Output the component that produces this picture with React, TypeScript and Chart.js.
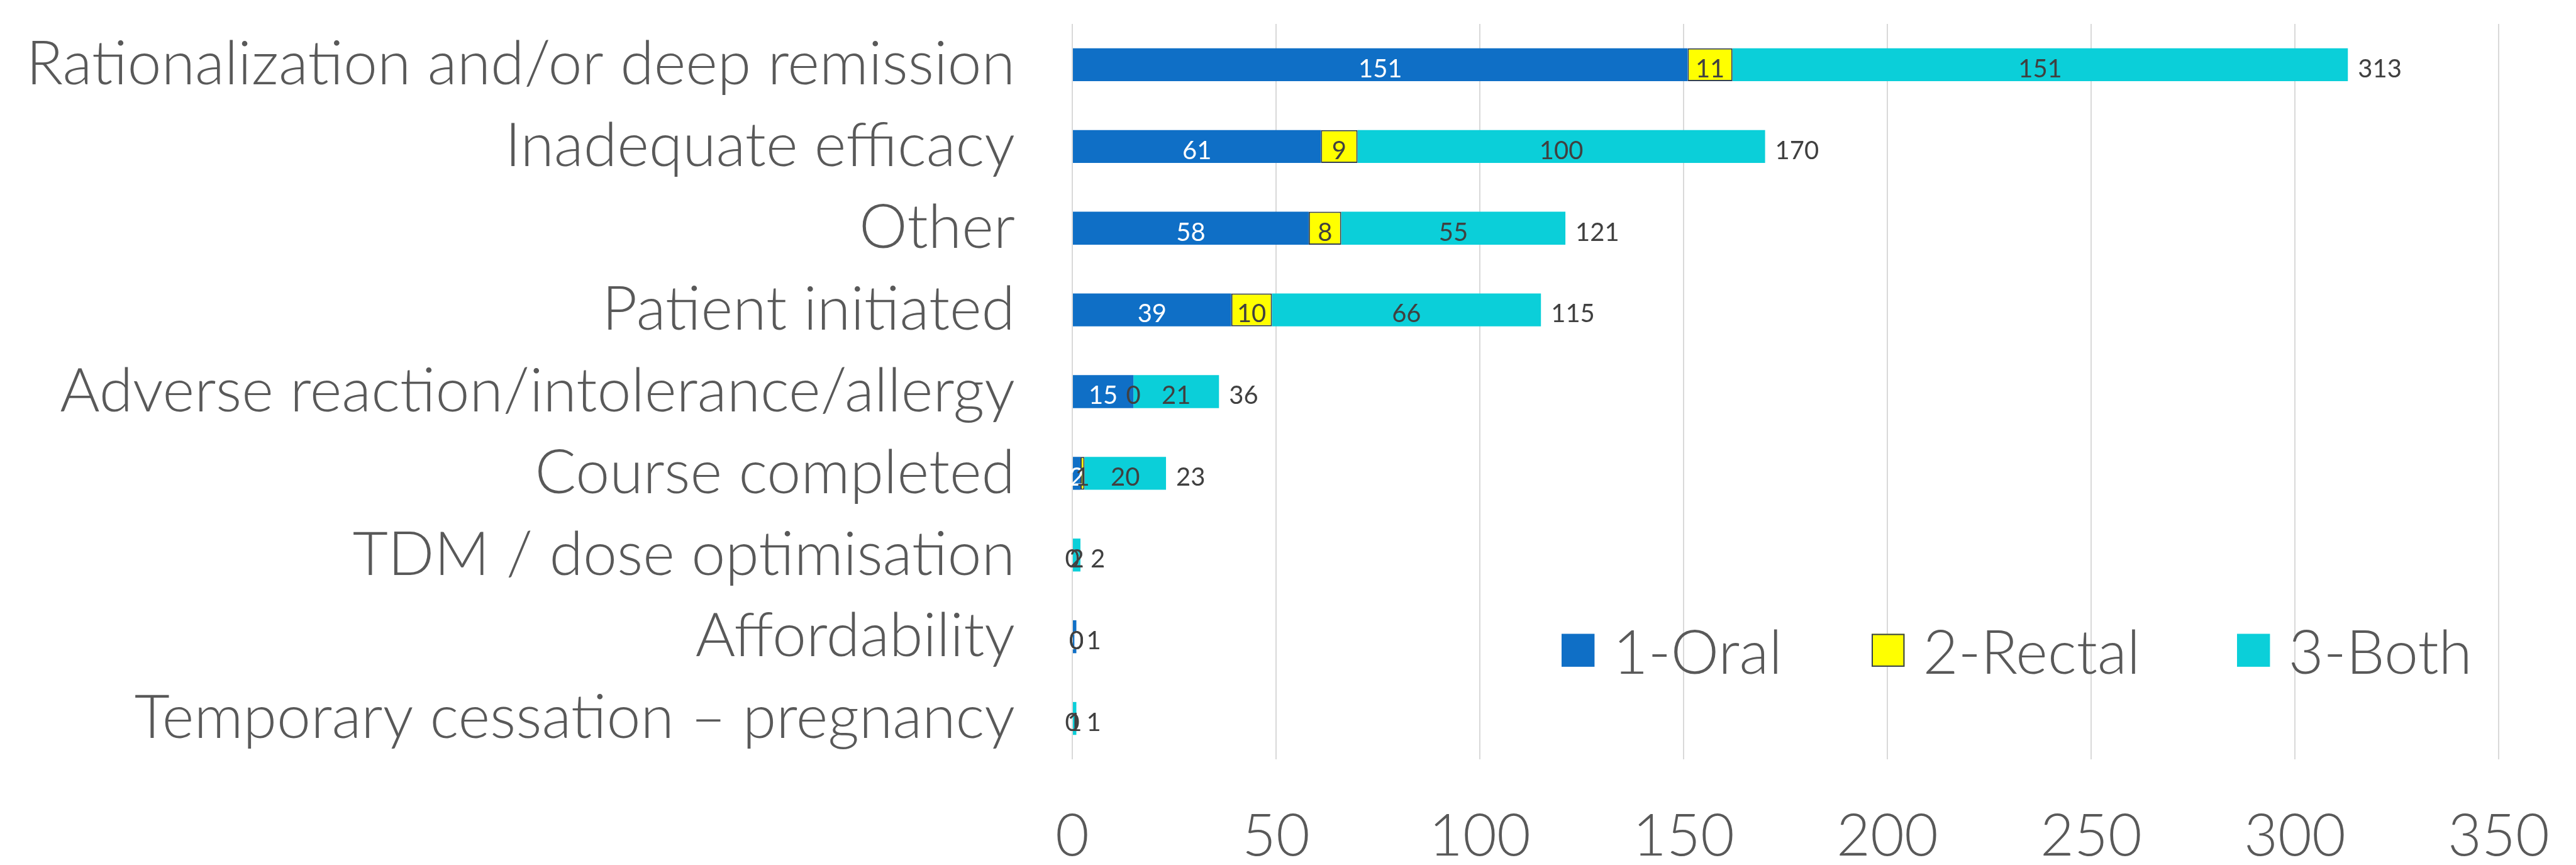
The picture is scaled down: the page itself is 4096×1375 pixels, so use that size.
import { useEffect, useRef } from 'react';
import { Chart, registerables } from 'chart.js';

Chart.register(...registerables);

const categories = [
  'Rationalization and/or deep remission',
  'Inadequate efficacy',
  'Other',
  'Patient initiated',
  'Adverse reaction/intolerance/allergy',
  'Course completed',
  'TDM / dose optimisation',
  'Affordability',
  'Temporary cessation – pregnancy',
];
const seriesNames = ['1-Oral', '2-Rectal', '3-Both'];
const oralValues = [151, 61, 58, 39, 15, 2, 0, 1, 0];
const rectalValues = [11, 9, 8, 10, 0, 1, 0, 0, 0];
const bothValues = [151, 100, 55, 66, 21, 20, 2, 0, 1];
const xTicks = [0, 50, 100, 150, 200, 250, 300, 350];

const W = 4096;
const H = 1375;
const FONT = 'Lato, "Open Sans", sans-serif';
const WEIGHT = 300;
const VALUE_WEIGHT = 400;
const TEXT = '#595959';
const LABEL = '#404040';
const COLORS = ['#0F6FC6', '#FFFF00', '#0BCFD9'];
const LABEL_COLORS = ['#FFFFFF', LABEL, LABEL];
const VALUE_SIZE = 40;
const VALUE_DY = 5.5 + 0.358 * VALUE_SIZE;

const valueLabelPlugin = {
  id: 'valueLabels',
  afterDatasetsDraw(chart: any) {
    const ctx = chart.ctx as CanvasRenderingContext2D;
    ctx.save();
    ctx.font = `${VALUE_WEIGHT} ${VALUE_SIZE}px ${FONT}`;
    ctx.textBaseline = 'alphabetic';
    ctx.textAlign = 'center';
    chart.data.datasets.forEach((ds: any, di: number) => {
      const meta = chart.getDatasetMeta(di);
      ctx.fillStyle = LABEL_COLORS[di];
      meta.data.forEach((el: any, i: number) => {
        const { x, base, y } = el.getProps(['x', 'base', 'y'], true);
        ctx.fillText(String(ds.data[i]), (x + base) / 2, y + VALUE_DY);
      });
    });
    const xScale = chart.scales.x;
    const meta0 = chart.getDatasetMeta(0);
    ctx.fillStyle = LABEL;
    ctx.textAlign = 'left';
    categories.forEach((_c, i) => {
      const total = chart.data.datasets.reduce((s: number, ds: any) => s + Number(ds.data[i]), 0);
      const y = meta0.data[i].y;
      ctx.fillText(String(total), xScale.getPixelForValue(total) + 16, y + VALUE_DY);
    });
    ctx.restore();
  },
};

const legendPlugin = {
  id: 'insideLegend',
  afterDraw(chart: any) {
    const ctx = chart.ctx as CanvasRenderingContext2D;
    const boxX = [2483, 2976, 3557];
    const boxTop = 1007.5;
    const boxSize = 52.4;
    const textGap = 29;
    const baseline = 1070.6;
    ctx.save();
    ctx.font = `${WEIGHT} 97px ${FONT}`;
    ctx.textBaseline = 'alphabetic';
    ctx.textAlign = 'left';
    chart.data.datasets.forEach((ds: any, i: number) => {
      ctx.fillStyle = ds.backgroundColor;
      ctx.fillRect(boxX[i], boxTop, boxSize, boxSize);
      if (ds.borderWidth) {
        ctx.strokeStyle = ds.borderColor;
        ctx.lineWidth = 2;
        ctx.strokeRect(boxX[i] + 1, boxTop + 1, boxSize - 2, boxSize - 2);
      }
      ctx.fillStyle = TEXT;
      ctx.fillText(ds.label, boxX[i] + boxSize + textGap, baseline);
    });
    ctx.restore();
  },
};

export default function App() {
  const ref = useRef<HTMLCanvasElement | null>(null);

  useEffect(() => {
    if (!ref.current) return;
    const chart = new Chart(ref.current, {
      type: 'bar',
      data: {
        labels: categories,
        datasets: [
          { label: seriesNames[0], data: oralValues, backgroundColor: COLORS[0], borderWidth: 0 },
          {
            label: seriesNames[1],
            data: rectalValues,
            backgroundColor: COLORS[1],
            borderColor: '#333F50',
            borderWidth: 2,
            borderSkipped: false,
          },
          { label: seriesNames[2], data: bothValues, backgroundColor: COLORS[2], borderWidth: 0 },
        ],
      },
      options: {
        indexAxis: 'y',
        responsive: false,
        animation: false,
        devicePixelRatio: 1,
        layout: { padding: { left: 0, right: 123, top: 38, bottom: 0 } },
        datasets: { bar: { categoryPercentage: 1, barPercentage: 0.403 } },
        plugins: { legend: { display: false }, tooltip: { enabled: false } },
        scales: {
          x: {
            type: 'linear',
            stacked: true,
            min: 0,
            max: 350,
            position: 'bottom',
            afterBuildTicks: (s: any) => {
              s.ticks = xTicks.map((v) => ({ value: v }));
            },
            afterFit: (s: any) => {
              s.height = 168;
              s.paddingLeft = 0;
              s.paddingRight = 0;
            },
            grid: { color: '#D9D9D9', lineWidth: 2, drawTicks: false },
            border: { display: false },
            ticks: {
              padding: 67,
              color: TEXT,
              maxRotation: 0,
              autoSkip: false,
              font: { family: FONT, size: 93, weight: WEIGHT, lineHeight: 1.2 },
            },
          },
          y: {
            type: 'category',
            stacked: true,
            afterFit: (s: any) => {
              s.width = 1705;
              s.paddingTop = 0;
              s.paddingBottom = 0;
            },
            grid: { display: false, drawTicks: false },
            border: { display: false },
            ticks: {
              padding: 91,
              color: TEXT,
              autoSkip: false,
              font: { family: FONT, size: 97, weight: WEIGHT, lineHeight: 1.2 },
            },
          },
        },
      } as any,
      plugins: [valueLabelPlugin, legendPlugin],
    });
    return () => chart.destroy();
  }, []);

  return (
    <div style={{ position: 'fixed', left: 0, top: 0, width: W, height: H, background: '#fff' }}>
      <canvas ref={ref} width={W} height={H} style={{ display: 'block', width: W, height: H }} />
    </div>
  );
}
